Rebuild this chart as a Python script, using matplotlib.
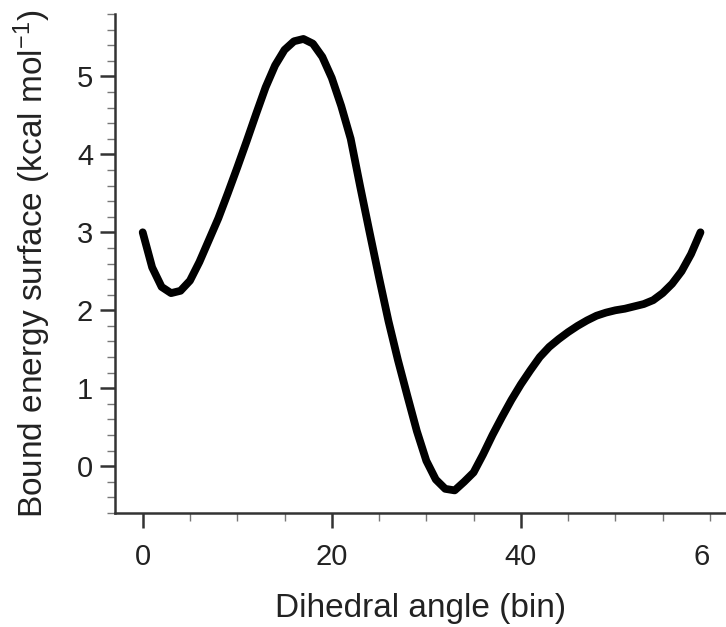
import numpy as np
import matplotlib
matplotlib.use("Agg")
import matplotlib.pyplot as plt
from matplotlib.ticker import MultipleLocator

plt.rcParams['font.family'] = ['Liberation Sans', 'DejaVu Sans']
plt.rcParams['mathtext.default'] = 'regular'

# energy per dihedral bin (kcal/mol)
bins = np.arange(60)
energy = [3.00, 2.55, 2.30, 2.22, 2.25, 2.38, 2.62, 2.90, 3.18, 3.50,
          3.83, 4.17, 4.52, 4.86, 5.14, 5.34, 5.45, 5.48, 5.42, 5.25,
          4.98, 4.62, 4.20, 3.59, 3.00, 2.42, 1.86, 1.36, 0.90, 0.45,
          0.07, -0.17, -0.29, -0.31, -0.20, -0.08, 0.15, 0.40, 0.63, 0.85,
          1.05, 1.23, 1.40, 1.53, 1.63, 1.72, 1.80, 1.87, 1.93, 1.97,
          2.00, 2.02, 2.05, 2.08, 2.13, 2.22, 2.34, 2.50, 2.72, 3.00]

xticks = [0, 20, 40]
xticklabels = ['0', '20', '40']
yticks = [0, 1, 2, 3, 4, 5]

axcol = '#333333'
fs_tick = 21
major_len, minor_len = 10.8, 5.8
xpad, ypad = 11, 5

fig = plt.figure(figsize=(7.26, 6.27), dpi=100)
ax = fig.add_axes([115/726, 1 - 513/627, 1 - 115/726, (513 - 14)/627])

ax.plot(bins, energy, color='black', lw=5.6, solid_capstyle='round',
        solid_joinstyle='round')

ax.set_xlim(-2.93, 61.7)
ax.set_ylim(-0.6, 5.8)

ax.set_xticks(xticks)
ax.set_xticklabels(xticklabels)
ax.set_yticks(yticks)
ax.xaxis.set_minor_locator(MultipleLocator(5))
ax.yaxis.set_minor_locator(MultipleLocator(0.2))

for s in ['top', 'right']:
    ax.spines[s].set_visible(False)
for s in ['left', 'bottom']:
    ax.spines[s].set_color(axcol)
    ax.spines[s].set_linewidth(1.8)

ax.tick_params(which='major', length=major_len, width=1.8, color=axcol,
               labelsize=fs_tick, labelcolor='#222222')
ax.tick_params(axis='x', which='major', pad=xpad)
ax.tick_params(axis='y', which='major', pad=ypad)
ax.tick_params(which='minor', length=minor_len, width=1.0, color='#777777')

# last label, cut short at the right edge
ax.annotate('6', xy=(59.1, 0), xycoords=ax.get_xaxis_transform(),
            xytext=(0, -(major_len + xpad)), textcoords='offset points',
            ha='center', va='top', fontsize=fs_tick, color='#222222',
            annotation_clip=False)

ax.set_xlabel('Dihedral angle (bin)', fontsize=24, color='#222222', labelpad=16)
ax.set_ylabel('Bound energy surface (kcal mol$^{-1}$)', fontsize=24,
              color='#222222', labelpad=17)

fig.savefig('out.png', dpi=100)
